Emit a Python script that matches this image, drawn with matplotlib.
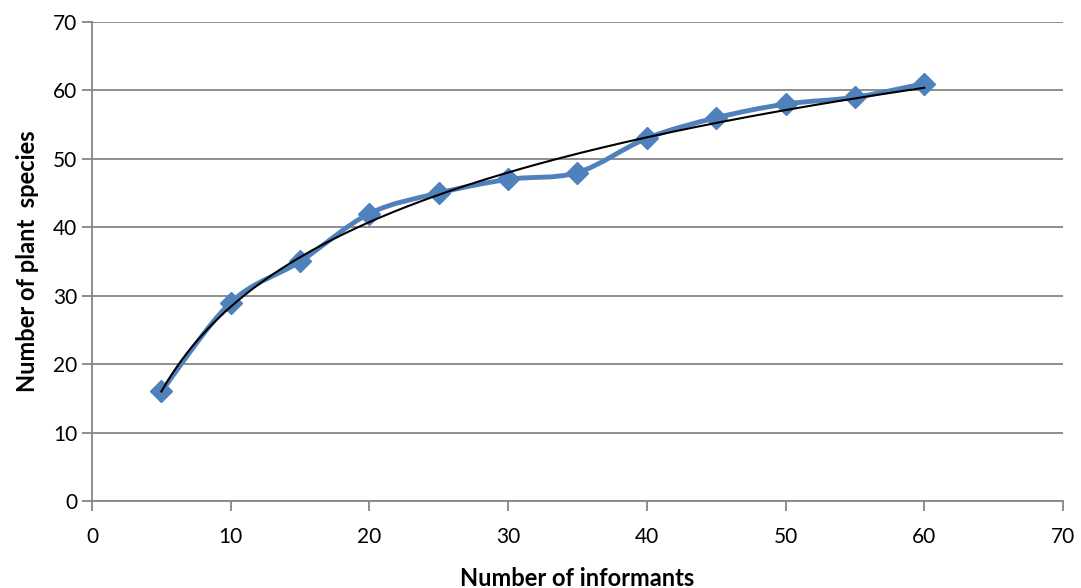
import numpy as np
import matplotlib.pyplot as plt
from matplotlib.path import Path
from matplotlib.patches import PathPatch

informants = [5, 10, 15, 20, 25, 30, 35, 40, 45, 50, 55, 60]
species = [16, 29, 35, 42, 45, 47, 48, 53, 56, 58, 59, 61]

BLUE = '#4F81BD'
GRID = '#868686'

plt.rcParams['font.family'] = ['Lato', 'DejaVu Sans']


def smooth_path(xs, ys, t=1 / 6):
    # Excel style smoothed line: cubic bezier segments through the points
    pts = np.column_stack([xs, ys]).astype(float)
    verts = [pts[0]]
    codes = [Path.MOVETO]
    n = len(pts)
    for i in range(n - 1):
        p0 = pts[i - 1] if i > 0 else pts[i]
        p1 = pts[i]
        p2 = pts[i + 1]
        p3 = pts[i + 2] if i + 2 < n else pts[i + 1]
        c1 = p1 + (p2 - p0) * t
        c2 = p2 - (p3 - p1) * t
        verts += [c1, c2, p2]
        codes += [Path.CURVE4] * 3
    return Path(verts, codes)


fig = plt.figure(figsize=(10.81, 5.88), dpi=100)
ax = fig.add_axes([0.0851, 0.148, 0.8982, 0.8146])

ax.set_xlim(0, 70)
ax.set_ylim(0, 70)
ax.set_xticks(range(0, 71, 10))
ax.set_yticks(range(0, 71, 10))

ax.yaxis.grid(True, color=GRID, linewidth=1.3)
ax.set_axisbelow(True)
for s in ['top', 'right']:
    ax.spines[s].set_visible(False)
for s in ['left', 'bottom']:
    ax.spines[s].set_color(GRID)
    ax.spines[s].set_linewidth(1.3)
ax.tick_params(axis='both', colors=GRID, labelcolor='black', labelsize=15,
               length=7, width=1.3, direction='out')
ax.tick_params(axis='x', pad=12)

# smoothed data line
patch = PathPatch(smooth_path(informants, species), facecolor='none',
                  edgecolor=BLUE, linewidth=3.5, zorder=3)
ax.add_patch(patch)
ax.plot(informants, species, linestyle='none', marker='D', markersize=11,
        color=BLUE, zorder=4)

# logarithmic trend line
a, b = np.polyfit(np.log(informants), species, 1)
xt = np.linspace(informants[0], informants[-1], 300)
ax.plot(xt, a * np.log(xt) + b, color='black', linewidth=1.5, zorder=5)

ax.set_xlabel('Number of informants', fontsize=17, fontweight='bold', labelpad=14)
ax.set_ylabel('Number of plant  species', fontsize=17, fontweight='bold', labelpad=10)

fig.savefig('out.png', dpi=100)
